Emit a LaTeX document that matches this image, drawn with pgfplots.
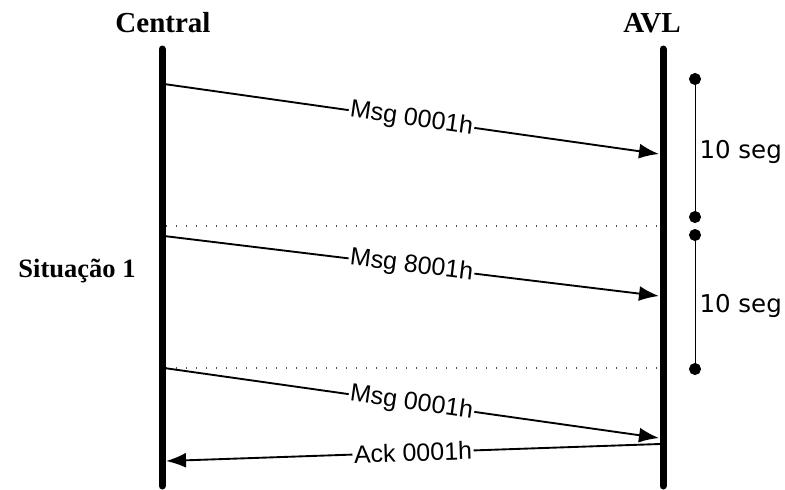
\documentclass[border=0pt]{standalone}
\usepackage{pgfplots}
\pgfplotsset{compat=1.18}
\usepackage{fontspec}
\setmainfont{Liberation Serif}
\newfontfamily\arial{Liberation Sans}
\newfontfamily\verdana{DejaVu Sans}
\usetikzlibrary{arrows.meta}

\tikzset{
    msg/.style={black, line width=0.75pt, -{Latex[length=8pt,width=6pt]}},
    lbl/.style={pos=0.5, sloped, fill=white, inner sep=0.6pt, font=\arial\fontsize{10}{12}\selectfont},
    sep/.style={black!70, line width=0.45pt, dash pattern=on 0.45pt off 3.55pt},
}

% sequence diagram, drawn in pixel coordinates (1px = 0.4pt)
\begin{document}
\begin{tikzpicture}
\begin{axis}[
    scale only axis,
    width=314pt, height=194.4pt,
    xmin=0, xmax=785, ymin=0, ymax=486,
    y dir=reverse,
    axis line style={draw=none},
    ticks=none,
    clip=false,
]
% lifelines
\addplot[black, line width=2.8pt, line cap=round] coordinates {(162,49) (162,486)};
\addplot[black, line width=2.8pt, line cap=round] coordinates {(663,49) (663,486)};

% separators
\addplot[sep] coordinates {(166,226) (658,226)};
\addplot[sep] coordinates {(166,368) (658,368)};

% messages
\addplot[msg] coordinates {(164,84) (659,154)} node[lbl] {Msg 0001h};
\addplot[msg] coordinates {(164,236) (659,296)} node[lbl] {Msg 8001h};
\addplot[msg] coordinates {(164,368) (659,438)} node[lbl] {Msg 0001h};
\addplot[msg] coordinates {(660,444) (166,461)} node[lbl] {Ack 0001h};

% timers
\addplot[black, line width=0.4pt, mark=*, mark size=2.2pt] coordinates {(695,79) (695,217)};
\addplot[black, line width=0.4pt, mark=*, mark size=2.2pt] coordinates {(695,235) (695,369)};

% text
\node[font=\bfseries\fontsize{11.6}{13}\selectfont] at (axis cs:163,23) {Central};
\node[font=\bfseries\fontsize{11.6}{13}\selectfont] at (axis cs:652,23) {AVL};
\node[font=\bfseries\fontsize{10.6}{12}\selectfont] at (axis cs:77,271) {Situação 1};
\node[anchor=west, inner sep=0pt, font=\verdana\fontsize{9.8}{11}\selectfont] at (axis cs:699,152) {10 seg};
\node[anchor=west, inner sep=0pt, font=\verdana\fontsize{9.8}{11}\selectfont] at (axis cs:699,306) {10 seg};
\end{axis}
\end{tikzpicture}
\end{document}
